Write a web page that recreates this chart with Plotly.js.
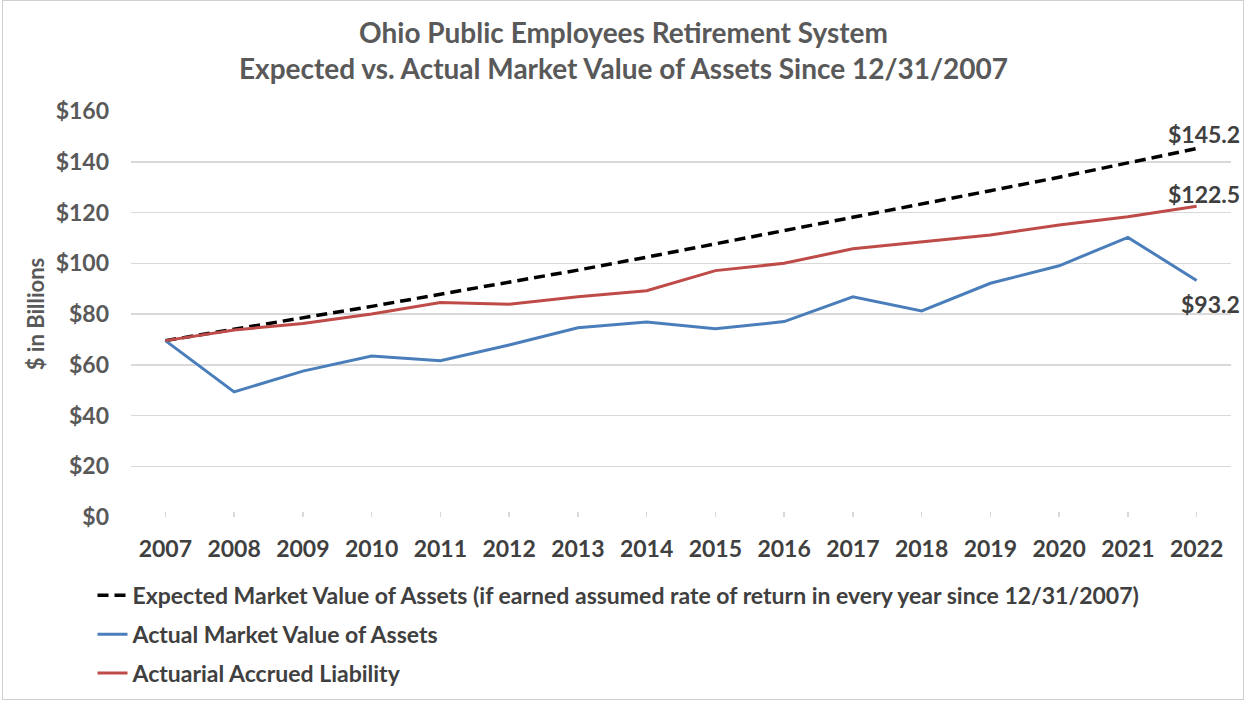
<!DOCTYPE html>
<html><head><meta charset="utf-8">
<script src="https://cdn.plot.ly/plotly-3.0.1.min.js"></script>
<style>
html,body{margin:0;padding:0;background:#fff;}
#frame{position:absolute;left:2px;top:0;width:1242px;height:700px;border:1px solid #d0d0d0;box-sizing:border-box;}
#chart{position:absolute;left:0;top:0;width:1247px;height:702px;}
</style></head>
<body><div id="frame"></div><div id="chart"></div>
<script>
const years = ['2007','2008','2009','2010','2011','2012','2013','2014','2015','2016','2017','2018','2019','2020','2021','2022'];
const expected = [69.5,73.9,78.4,83.0,87.8,92.4,97.3,102.4,107.6,112.7,117.9,123.2,128.6,133.9,139.4,145.2];
const actual = [69.5,49.3,57.5,63.4,61.6,67.8,74.6,76.8,74.2,77.0,86.8,81.2,92.1,99.0,110.2,93.2];
const liability = [69.5,73.7,76.3,80.0,84.5,83.8,86.8,89.2,97.1,100.0,105.7,108.5,111.1,115.1,118.3,122.5];
const yTicks = [0,20,40,60,80,100,120,140,160];
const seriesNames = ['Expected Market Value of Assets (if earned assumed rate of return in every year since 12/31/2007)','Actual Market Value of Assets','Actuarial Accrued Liability'];

const F = 'Lato, "Open Sans", sans-serif';
const traces = [
 {x:years,y:expected,name:seriesNames[0],type:'scatter',mode:'lines',line:{color:'#000000',width:3.5,dash:'11px,6px'},legendgroup:'a'},
 {x:years,y:actual,name:seriesNames[1],type:'scatter',mode:'lines',line:{color:'#4a7ebb',width:3},legendgroup:'b'},
 {x:years,y:liability,name:seriesNames[2],type:'scatter',mode:'lines',line:{color:'#be4b48',width:3},legendgroup:'c'}
];
const li = years.length-1;
function lab(v,shift){return {x:li,y:v,xref:'x',yref:'y',text:'<b>$'+v.toFixed(1)+'</b>',showarrow:false,xanchor:'right',yanchor:'middle',xshift:45,yshift:shift,font:{family:F,size:23,color:'#404040'}};}
const layout = {
 width:1247,height:702,
 paper_bgcolor:'rgba(0,0,0,0)',plot_bgcolor:'rgba(0,0,0,0)',
 margin:{l:131,r:16,t:111,b:185,autoexpand:false},
 title:{text:'<b>Ohio Public Employees Retirement System<br>Expected vs. Actual Market Value of Assets Since 12/31/2007</b>',x:0.5,xref:'container',xanchor:'center',y:0.939,yref:'container',yanchor:'top',font:{family:F,size:28,color:'#595959'}},
 xaxis:{type:'category',range:[-0.5,15.5],showgrid:false,zeroline:false,showline:false,ticks:'inside',ticklen:5,tickwidth:1.5,tickcolor:'#d9d9d9',ticklabelstandoff:16,tickfont:{family:F,size:23,color:'#404040',weight:'bold'},fixedrange:true},
 yaxis:{range:[0,160],tickvals:yTicks,ticktext:yTicks.map(v=>'$'+v),gridcolor:'#d9d9d9',gridwidth:1.5,zeroline:false,showline:false,ticks:'',ticklen:0,ticklabelstandoff:21,tickfont:{family:F,size:23,color:'#595959',weight:'bold'},
   title:{text:'<b>$ in Billions</b>',font:{family:F,size:22,color:'#595959'},standoff:4}},
 showlegend:true,
 legend:{orientation:'v',x:-0.035,xanchor:'left',y:-0.14,yanchor:'top',font:{family:F,size:23,color:'#404040',weight:'bold'},tracegroupgap:6,itemwidth:30,bgcolor:'rgba(0,0,0,0)'},
 annotations:[lab(expected[li],15),lab(liability[li],12),lab(actual[li],-23)]
};
Plotly.newPlot('chart',traces,layout,{displayModeBar:false,staticPlot:true});
</script></body></html>
